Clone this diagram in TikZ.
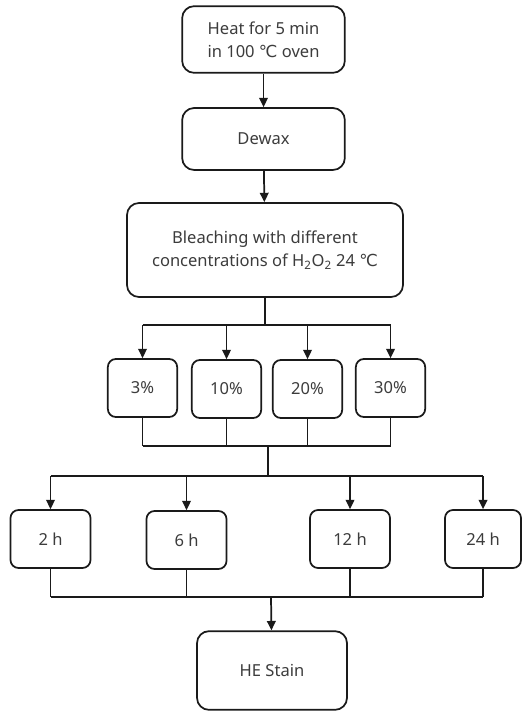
\documentclass[tikz,border=0pt]{standalone}
\usepackage{fontspec}
\setmainfont{Noto Sans}
\newfontfamily\degfont{DejaVu Sans}
\usetikzlibrary{arrows.meta}
\definecolor{FlowInk}{HTML}{1A1A1A}
\definecolor{FlowText}{HTML}{3C3C3C}
\tikzset{
  flowbox/.style={
    draw=FlowInk,
    fill=white,
    line width=1.3pt,
    rounded corners=9pt,
    align=center,
    text=FlowText,
    font=\fontsize{12.4}{17.5}\selectfont,
    inner sep=0pt
  },
  flowsmall/.style={
    flowbox,
    rounded corners=6pt,
    minimum height=43.5pt
  },
  flowline/.style={draw=FlowInk,line width=1.3pt},
  flowarrow/.style={flowline,-{Triangle[length=7pt,width=6.5pt]}}
}
\newcommand{\degc}{{\degfont ℃}}

\begin{document}
\begin{tikzpicture}[x=0.75pt,y=-0.75pt]
  \useasboundingbox (0,0) rectangle (523,712);
  \node[flowbox,minimum width=122pt,minimum height=50pt] (heat) at (263.5,39.5) {Heat for 5 min\\in 100 \degc{} oven};
  \node[flowbox,minimum width=122pt,minimum height=46.5pt] (dewax) at (263.5,139) {Dewax};
  \node[flowbox,minimum width=207pt,minimum height=70.5pt] (bleach) at (265,250) {Bleaching with different\\concentrations of H\textsubscript{2}O\textsubscript{2} 24 \degc};
  \node[flowsmall,minimum width=52pt] (c3) at (142.5,388) {3\%};
  \node[flowsmall,minimum width=52pt] (c10) at (226.5,389) {10\%};
  \node[flowsmall,minimum width=52pt] (c20) at (307.5,389) {20\%};
  \node[flowsmall,minimum width=52pt] (c30) at (390.5,388) {30\%};
  \node[flowsmall,minimum width=60pt] (t2) at (50.5,539) {2 h};
  \node[flowsmall,minimum width=60pt] (t6) at (186.5,540) {6 h};
  \node[flowsmall,minimum width=60pt] (t12) at (350,539) {12 h};
  \node[flowsmall,minimum width=57pt] (t24) at (483,539) {24 h};
  \node[flowbox,minimum width=112.5pt,minimum height=59pt] (stain) at (272,670.5) {HE Stain};
  % junction points
  \coordinate (split1) at (265,325);
  \coordinate (join1) at (268,446);
  \coordinate (split2) at (268,476);
  \coordinate (join2) at (271,597);
  \draw[flowarrow] (heat) -- (dewax);
  \draw[flowarrow] (dewax) -- (bleach);
  \draw[flowline] (bleach.south) -- (split1);
  \draw[flowline] (c3.north |- split1) -- (c30.north |- split1);
  \foreach \c in {c3,c10,c20,c30} {
    \draw[flowarrow] (\c.north |- split1) -- (\c.north);
    \draw[flowline] (\c.south) -- (\c.south |- join1);
  }
  \draw[flowline] (c3.south |- join1) -- (c30.south |- join1);
  \draw[flowline] (join1) -- (split2);
  \draw[flowline] (t2.north |- split2) -- (t24.north |- split2);
  \foreach \t in {t2,t6,t12,t24} {
    \draw[flowarrow] (\t.north |- split2) -- (\t.north);
    \draw[flowline] (\t.south) -- (\t.south |- join2);
  }
  \draw[flowline] (t2.south |- join2) -- (t24.south |- join2);
  \draw[flowarrow] (join2) -- (stain);
\end{tikzpicture}
\end{document}
